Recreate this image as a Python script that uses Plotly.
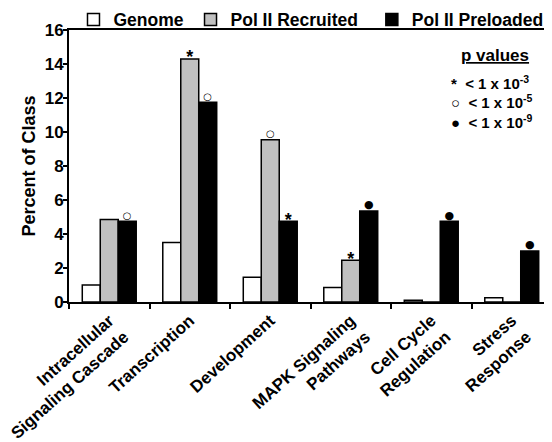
import plotly.graph_objects as go

categories = ["Intracellular<br>Signaling Cascade", "Transcription", "Development",
              "MAPK Signaling<br>Pathways", "Cell Cycle<br>Regulation", "Stress<br>Response"]
series_names = ["Genome", "Pol II Recruited", "Pol II Preloaded"]
genome = [1.0, 3.5, 1.45, 0.85, 0.1, 0.25]
recruited = [4.85, 14.3, 9.55, 2.45, 0.0, 0.0]
preloaded = [4.75, 11.75, 4.75, 5.35, 4.75, 3.0]
genome_marks = ["", "", "", "", "", ""]
recruited_marks = ["", "*", "○", "*", "", ""]
preloaded_marks = ["○", "○", "*", "●", "●", "●"]
y_ticks = [0, 2, 4, 6, 8, 10, 12, 14, 16]
pvalue_lines = ["*  < 1 x 10<sup>-3</sup>", "○  < 1 x 10<sup>-5</sup>", "●  < 1 x 10<sup>-9</sup>"]

colors = ["white", "#c0c0c0", "black"]
FONT = "Liberation Sans, Arial, sans-serif"
GAP = 0.33
legend_ids = ["legend", "legend2", "legend3"]
legend_x = [0.0093, 0.2516, 0.627]

def mark_style(marks):
    pos = ["middle center" if m == "*" else "top center" for m in marks]
    size = [18 if m == "*" else (10 if m == "○" else 11) for m in marks]
    fam = [FONT if m == "*" else "DejaVu Sans" for m in marks]
    return pos, size, fam

fig = go.Figure()
groups = ["g", "r", "p"]
for name, vals, col, grp, lg in zip(series_names, [genome, recruited, preloaded], colors, groups, legend_ids):
    fig.add_trace(go.Bar(
        x=categories, y=vals, name=name, offsetgroup=grp, legend=lg,
        marker=dict(color=col, line=dict(color="black", width=1.5)),
    ))
for name, vals, marks, grp in zip(series_names, [genome, recruited, preloaded],
                                  [genome_marks, recruited_marks, preloaded_marks], groups):
    pos, size, fam = mark_style(marks)
    fig.add_trace(go.Scatter(
        x=categories, y=vals, mode="text", text=marks, textposition=pos,
        textfont=dict(size=size, family=fam, color="black"),
        offsetgroup=grp, orientation="v", showlegend=False, hoverinfo="skip",
        cliponaxis=False,
    ))

# the page body has an 8px margin: figure is drawn at (8, 8) in the 552x442 window
fig.update_layout(
    width=544, height=434,
    margin=dict(l=61, r=0, t=22, b=140, autoexpand=False),
    paper_bgcolor="white", plot_bgcolor="white",
    barmode="group", bargap=GAP, bargroupgap=0,
    scattermode="group", scattergap=GAP,
    font=dict(family=FONT, color="black", size=17, weight="bold"),
    showlegend=True,
)
for lg, lx in zip(legend_ids, legend_x):
    fig.update_layout({lg: dict(orientation="h", x=lx, xanchor="left", y=0.972, yanchor="bottom",
                                font=dict(size=17.5, weight="bold"), bgcolor="rgba(0,0,0,0)")})
fig.update_xaxes(
    type="category", showline=True, linecolor="black", linewidth=2, mirror=True,
    ticks="outside", tickson="boundaries", ticklen=5, tickwidth=2, tickcolor="black",
    tickangle=-42, tickfont=dict(size=17, weight="bold"), showgrid=False,
)
fig.update_yaxes(
    range=[0, 16], tickvals=y_ticks, showline=True, linecolor="black", linewidth=2,
    ticks="outside", ticklen=4, tickwidth=2, tickcolor="black", showgrid=False,
    ticklabelstandoff=-4,
    zeroline=False, tickfont=dict(size=17, weight="bold"),
    title=dict(text="Percent of Class", font=dict(size=18, weight="bold"), standoff=4),
)

fig.add_annotation(xref="paper", yref="paper", x=0.882, y=0.905, xanchor="center", yanchor="middle",
                   text="<u>p values</u>", showarrow=False, font=dict(size=17, weight="bold"))
for i, line in enumerate(pvalue_lines):
    fig.add_annotation(xref="paper", yref="paper", x=0.786, y=[0.807, 0.738, 0.664][i],
                       xanchor="left", yanchor="middle", text=line, showarrow=False,
                       font=dict(size=15, weight="bold"))

fig.write_html("out.html")
